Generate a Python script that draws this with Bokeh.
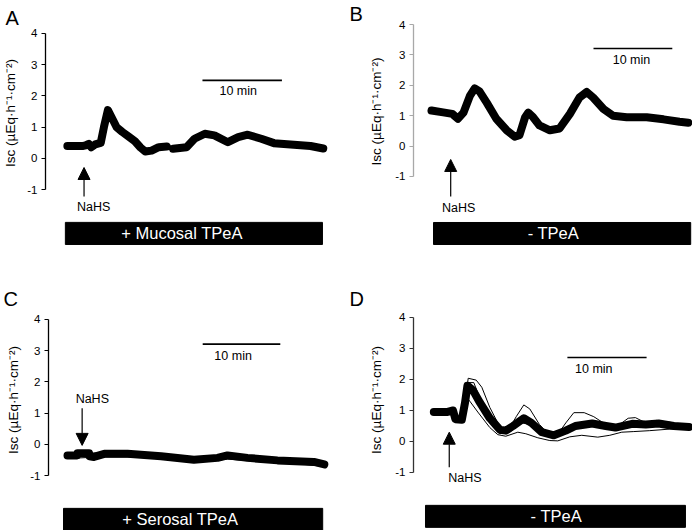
import math
from bokeh.plotting import figure
from bokeh.layouts import column, row
from bokeh.models import Range1d, FixedTicker, Arrow, NormalHead
from bokeh.core.properties import value
from bokeh.embed import file_html
from bokeh.resources import INLINE

nan = float("nan")
FONT = "Liberation Sans"
Y_LABEL = "Isc (µEq·h⁻¹·cm⁻²)"
Y_TICKS = [-1, 0, 1, 2, 3, 4]
SCALE_TEXT = "10 min"
STIM_TEXT = "NaHS"

# ---- data (time in min, Isc in µEq·h-1·cm-2) ----
A_t = [0, 1, 2, 2.3, 2.7, 3.0, 3.5, 4.2, 4.6, 5.1, 5.5, 6.2, 6.9, 7.7, 8.5, 9.2, 9.8, 10.6, 11.5, 12.5,
       nan, 13.3, 15.0, 16.0, 17.3, 18.5, 20.2, 21.5, 22.7, 24.4, 26.0, 28.5, 30.6, 32.2]
A_v = [0.4, 0.4, 0.4, 0.42, 0.47, 0.36, 0.45, 0.5, 1.0, 1.55, 1.35, 1.0, 0.85, 0.7, 0.55, 0.35, 0.22, 0.25, 0.36, 0.38,
       nan, 0.31, 0.36, 0.63, 0.79, 0.74, 0.52, 0.68, 0.76, 0.63, 0.49, 0.44, 0.4, 0.32]

B_t = [0, 1.46, 2.6, 3.3, 4.0, 4.8, 5.4, 6.0, 6.9, 8.1, 9.4, 10.4, 11.0, 11.7, 12.1, 12.7, 13.5, 14.8, 16.0,
       17.3, 18.5, 19.4, 20.2, 21.5, 22.7, 24.4, 26.9, 29.0, 31.0, 32.1]
B_v = [1.17, 1.11, 1.06, 0.9, 1.1, 1.65, 1.9, 1.8, 1.43, 0.9, 0.52, 0.31, 0.36, 0.95, 1.1, 0.95, 0.68, 0.52, 0.58,
       1.06, 1.6, 1.78, 1.6, 1.22, 1.0, 0.95, 0.95, 0.88, 0.8, 0.77]

C_t = [0, 1.2, 1.25, 2.7, 2.75, 3.3, 4.6, 7.5, 11.7, 15.8, 18.75, 20.0, 22.5, 26.25, 30.8, 32.1]
C_v = [-0.35, -0.35, -0.28, -0.28, -0.38, -0.4, -0.3, -0.3, -0.38, -0.49, -0.43, -0.35, -0.43, -0.51, -0.56, -0.64]
C_thin1_t = [0, 4, 8, 12, 16, 18.5, 20, 22, 26, 30, 32.1]
C_thin1_v = [-0.3, -0.27, -0.27, -0.33, -0.44, -0.36, -0.27, -0.36, -0.46, -0.52, -0.56]
C_thin2_t = [0, 4, 8, 12, 16, 20, 24, 28, 32.1]
C_thin2_v = [-0.45, -0.4, -0.4, -0.45, -0.57, -0.47, -0.55, -0.6, -0.7]

D_t = [0, 1.6, 2.4, 2.7, 3.5, 3.9, 4.2, 4.9, 5.75, 7.0, 8.25, 9.0, 9.9, 11.25, 12.2, 13.5, 15.0, 16.5, 17.7,
       19.8, 21.5, 22.7, 24.8, 26.5, 28.1, 30.0, 31.9]
D_v = [0.95, 0.95, 1.0, 0.72, 0.7, 1.25, 1.8, 1.65, 1.26, 0.75, 0.38, 0.35, 0.5, 0.75, 0.6, 0.3, 0.2, 0.35, 0.5,
       0.58, 0.5, 0.45, 0.57, 0.55, 0.58, 0.5, 0.47]
D_thin1_t = [0, 2.4, 2.7, 3.5, 3.9, 4.3, 5.3, 6.0, 7.0, 8.3, 9.4, 10.3, 11.25, 12.0, 13.2, 14.5, 15.2, 16.5,
             17.5, 18.8, 20.0, 21.5, 22.7, 24.3, 25.2, 26.5, 27.8, 29.5, 31.9]
D_thin1_v = [0.95, 1.0, 0.75, 0.72, 1.3, 2.04, 1.98, 1.75, 1.1, 0.45, 0.4, 0.8, 1.18, 1.05, 0.55, 0.2, 0.12, 0.6,
             0.93, 0.93, 0.8, 0.55, 0.45, 0.75, 0.77, 0.6, 0.68, 0.62, 0.5]
D_thin2_t = [0, 2.4, 2.7, 3.5, 4.0, 4.5, 5.5, 7.0, 8.0, 9.0, 10.5, 11.5, 13.0, 14.5, 15.5, 17.0, 18.5, 20.5,
             22.0, 23.5, 25.0, 27.0, 29.5, 31.9]
D_thin2_v = [0.9, 0.95, 0.7, 0.68, 1.45, 1.3, 0.95, 0.45, 0.22, 0.17, 0.3, 0.25, 0.12, 0.03, 0.02, 0.15, 0.2, 0.14,
             0.2, 0.3, 0.32, 0.35, 0.4, 0.42]
D_thin3_t = [0, 2.4, 2.7, 3.5, 4.2, 5.0, 5.75, 7.0, 8.25, 9.5, 11.0, 12.0, 13.5, 15.0, 16.5, 18.0, 20.0, 22.0,
             24.0, 26.0, 28.0, 30.0, 31.9]
D_thin3_v = [0.9, 1.05, 0.7, 0.65, 1.9, 1.9, 1.4, 0.6, 0.25, 0.3, 0.6, 0.55, 0.25, 0.1, 0.3, 0.45, 0.5, 0.4,
             0.55, 0.5, 0.55, 0.5, 0.45]

PANEL_W, PANEL_H = 346, 265


def style_plain(p):
    p.outline_line_color = None
    p.grid.visible = False
    p.background_fill_color = "white"
    p.border_fill_color = "white"


def make_panel(letter, xr, y_bottom, y_split, y_top, split_px, left, top, axis_color, label_standoff,
               thick, thins, bar, bar_text, scale, scale_text_xy, arrow, stim_xy):
    x_range = Range1d(*xr)
    # upper part: axis, traces, scale bar, arrow
    p = figure(width=PANEL_W, height=split_px, output_backend="svg", toolbar_location=None,
               x_range=x_range, y_range=Range1d(y_split, y_top), x_axis_location=None,
               min_border_left=left, min_border_right=0, min_border_top=top, min_border_bottom=0)
    style_plain(p)
    p.title.text = letter
    p.title.align = "left"
    p.title.offset = -(left - 3)
    p.title.standoff = 0
    p.title.text_font = FONT
    p.title.text_font_size = "20px"
    p.title.text_font_style = "normal"
    p.title.text_color = "black"

    ax = p.yaxis[0]
    ax.bounds = (-1, 4)
    ax.ticker = FixedTicker(ticks=Y_TICKS, minor_ticks=[])
    ax.major_label_overrides = {t: str(t) for t in Y_TICKS}
    ax.axis_line_color = axis_color
    ax.major_tick_line_color = axis_color
    ax.axis_line_width = 1.3
    ax.major_tick_in = 0
    ax.major_tick_out = 4
    ax.minor_tick_in = 0
    ax.minor_tick_out = 0
    ax.major_label_standoff = 4
    ax.major_label_text_font = FONT
    ax.major_label_text_font_size = "11.5px"
    ax.major_label_text_color = "black"
    ax.axis_label = Y_LABEL
    ax.axis_label_text_font = FONT
    ax.axis_label_text_font_style = "normal"
    ax.axis_label_text_font_size = "13.5px"
    ax.axis_label_text_color = "black"
    ax.axis_label_standoff = label_standoff

    for tt, vv in thins:
        p.line(tt, vv, line_color="black", line_width=1)
    p.line(thick[0], thick[1], line_color="black", line_width=8, line_join="round", line_cap="round")

    p.segment(x0=[scale[0]], x1=[scale[1]], y0=[scale[2]], y1=[scale[2]], line_color="black", line_width=1.7)
    p.text(x=[scale_text_xy[0]], y=[scale_text_xy[1]], text=[SCALE_TEXT], text_color="black",
           text_font=value(FONT), text_font_size="12.5px", text_align="center", text_baseline="middle")

    p.add_layout(Arrow(end=NormalHead(size=12, fill_color="black", line_color="black"),
                       x_start=arrow[0], y_start=arrow[1], x_end=arrow[0], y_end=arrow[2],
                       line_color="black", line_width=1.2))

    # lower part: treatment bar (and the stimulus label when it sits below the split)
    q = figure(width=PANEL_W, height=PANEL_H - split_px, output_backend="svg", toolbar_location=None,
               x_range=x_range, y_range=Range1d(y_bottom, y_split), x_axis_location=None,
               y_axis_location=None, min_border_left=left, min_border_right=0,
               min_border_top=0, min_border_bottom=0)
    style_plain(q)

    target = q if stim_xy[1] < y_split else p
    target.text(x=[stim_xy[0]], y=[stim_xy[1]], text=[STIM_TEXT], text_color="black",
                text_font=value(FONT), text_font_size="12.5px", text_align="center", text_baseline="middle")
    q.quad(left=[bar[0]], right=[bar[1]], bottom=[bar[2]], top=[bar[3]],
           fill_color="black", line_color="black")
    q.text(x=[(bar[0] + bar[1]) / 2 + bar_text[1]], y=[(bar[2] + bar[3]) / 2], text=[bar_text[0]],
           text_color="white", text_font=value(FONT), text_font_size="16.5px",
           text_align="center", text_baseline="middle")
    return column(p, q, spacing=0)


pA = make_panel("A", (-2.75, 35.125), -3.436, -1.25, 4.16, 197, 43, 28, "black", 6,
                (A_t, A_v), [],
                (-0.25, 32.1, -2.76, -2.05), ("+ Mucosal TPeA", -1.5),
                (17.0, 27.0, 2.5), (21.5, 2.15),
                (2.1, -1.22, -0.29), (3.3, -1.56))
pB = make_panel("B", (-2.25, 32.625), -3.928, -1.724, 4.0, 198, 67, 24, "#a8a8a8", 8,
                (B_t, B_v), [],
                (0.25, 32.4, -3.237, -2.513), ("- TPeA", -1.1),
                (20.25, 30.1, 3.21), (25.0, 2.82),
                (2.4, -1.66, -0.44), (3.4, -2.04))
pC = make_panel("C", (-2.375, 34.875), -2.763, -1.474, 4.32, 225, 48, 44, "black", 6,
                (C_t, C_v), [(C_thin1_t, C_thin1_v), (C_thin2_t, C_thin2_v)],
                (-0.5, 31.9, -2.76, -2.05), ("+ Serosal TPeA", -1.6),
                (16.9, 26.6, 3.21), (20.7, 2.83),
                (1.83, 1.16, -0.03), (3.1, 1.47))
pD = make_panel("D", (-2.54, 32.34), -2.871, -1.581, 4.258, 225, 67, 44, "#333333", 8,
                (D_t, D_v), [(D_thin1_t, D_thin1_v), (D_thin2_t, D_thin2_v), (D_thin3_t, D_thin3_v)],
                (-1.04, 31.46, -2.77, -2.06), ("- TPeA", 0.1),
                (16.7, 26.6, 2.71), (20.0, 2.35),
                (1.93, -0.83, 0.3), (3.9, -1.19))

layout = column(row(pA, pB, spacing=0), row(pC, pD, spacing=0), spacing=0)

with open("out.html", "w") as f:
    f.write(file_html(layout, INLINE))
